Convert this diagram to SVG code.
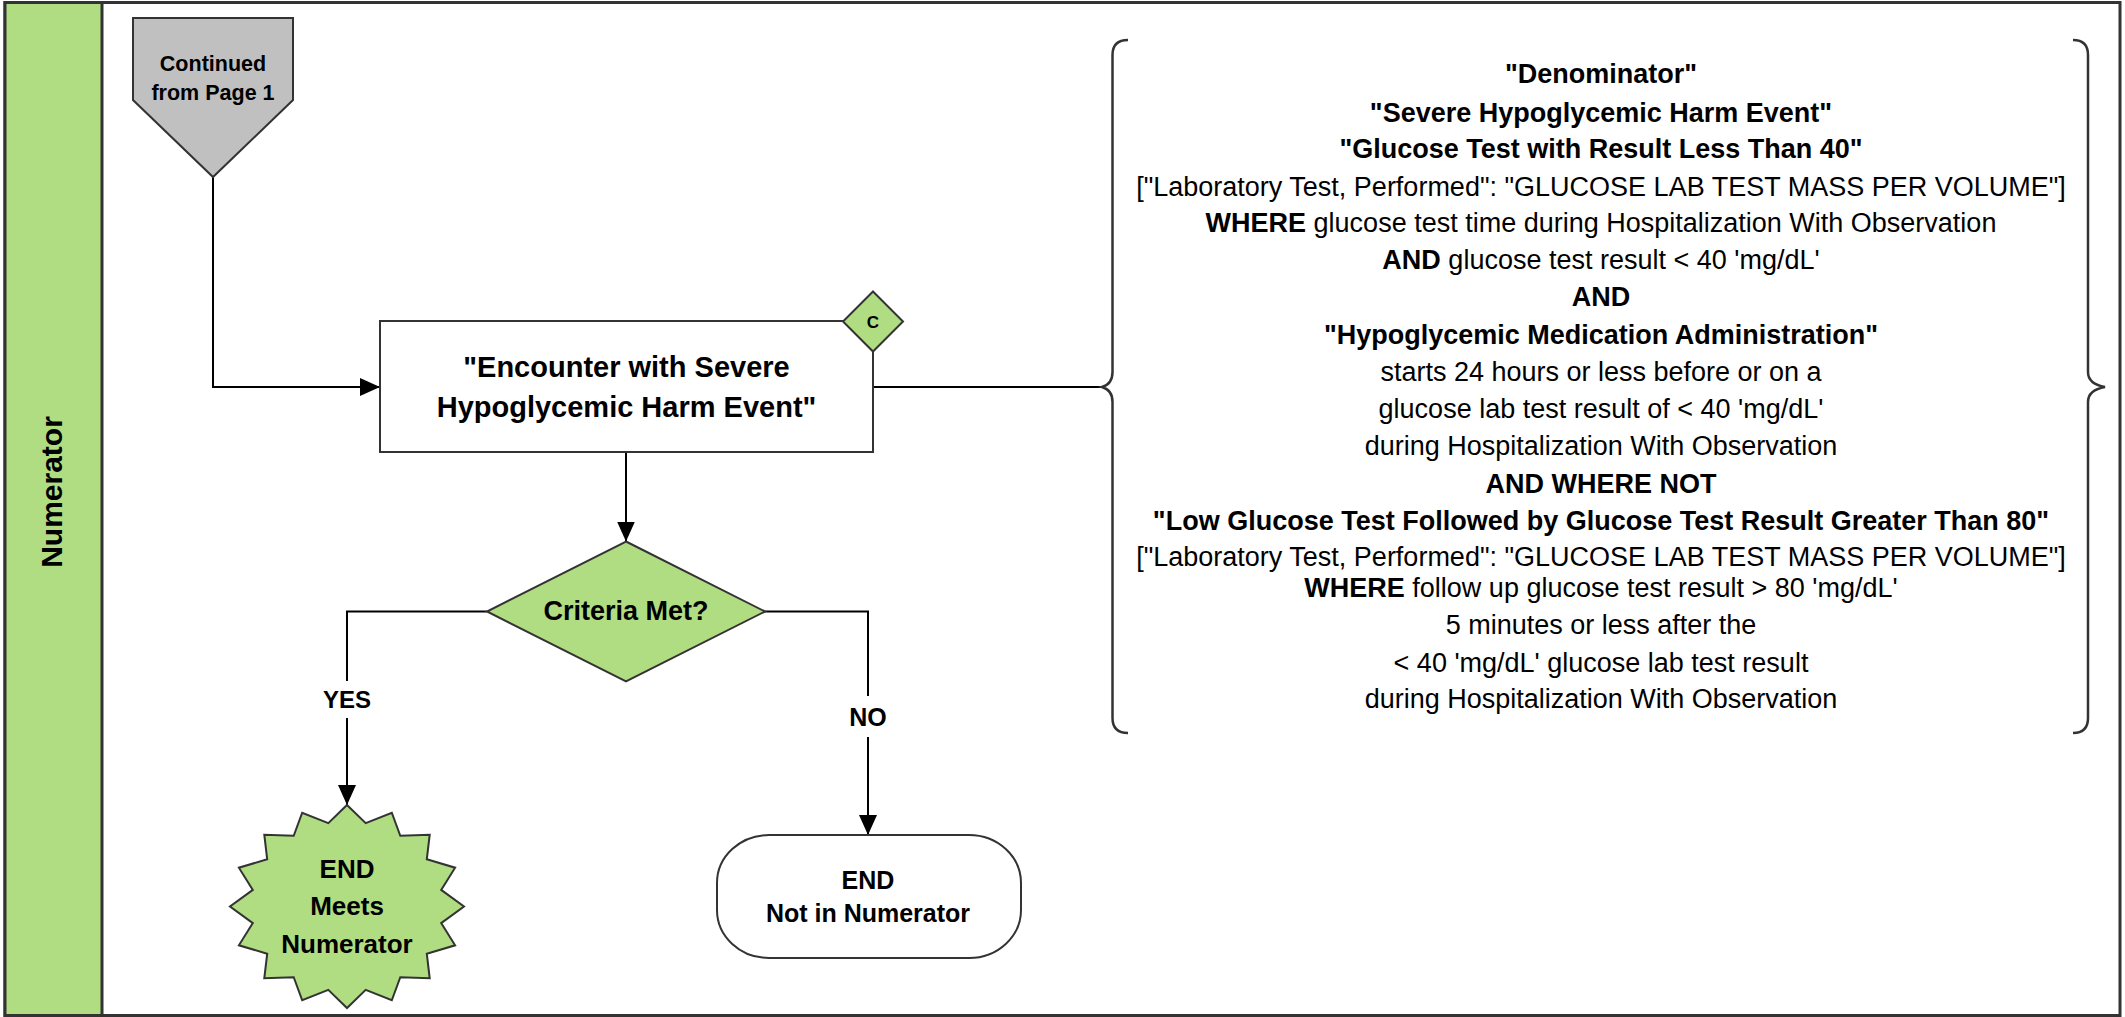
<svg xmlns="http://www.w3.org/2000/svg" width="2125" height="1017" viewBox="0 0 2125 1017">
<style>
  .green{fill:#b0dc82}
  .shape{stroke:#333;stroke-width:2}
  .conn{fill:none;stroke:#000;stroke-width:2}
  .brace{fill:none;stroke:#333;stroke-width:2.5}
  text{font-family:"Liberation Sans",Arial,sans-serif;fill:#000;text-anchor:middle}
  .b{font-weight:bold}
  .lbl{fill:#fff}
</style>
<defs>
  <marker id="arrow" viewBox="0 0 20 20" refX="20" refY="10" markerWidth="20" markerHeight="20" markerUnits="userSpaceOnUse" orient="auto">
    <path d="M0,1 L20,10 L0,19 z" fill="#000"/>
  </marker>
</defs>
<rect x="0" y="0" width="2125" height="1017" fill="#fff"/>

<g id="swimlane">
  <rect x="5" y="2.5" width="2115" height="1013" fill="#fff" stroke="#333" stroke-width="3"/>
  <rect x="5" y="2.5" width="97" height="1013" class="green" stroke="#333" stroke-width="3"/>
  <text class="b" font-size="30" transform="translate(61.5,492) rotate(-90)">Numerator</text>
</g>

<g id="connectors">
  <path class="conn" d="M213,177 V387 H380" marker-end="url(#arrow)"/>
  <path class="conn" d="M626,452 V541.5" marker-end="url(#arrow)"/>
  <path class="conn" d="M487,611.5 H347 V805" marker-end="url(#arrow)"/>
  <path class="conn" d="M765,611.5 H868 V835" marker-end="url(#arrow)"/>
  <path class="conn" d="M873,387 H1102"/>
  <rect class="lbl" x="320" y="681" width="54" height="37"/>
  <text class="b" font-size="24" x="347" y="708">YES</text>
  <rect class="lbl" x="845" y="696" width="46" height="41"/>
  <text class="b" font-size="25" x="868" y="726">NO</text>
</g>

<g id="offpage">
  <polygon points="133,18 293,18 293,100 213,177 133,100" fill="#c0c0c0" class="shape"/>
  <text class="b" font-size="21.5" x="213" y="71">Continued</text>
  <text class="b" font-size="21.5" x="213" y="100">from Page 1</text>
</g>

<g id="encounter">
  <rect x="380" y="321" width="493" height="131" fill="#fff" class="shape"/>
  <text class="b" font-size="29" x="626.5" y="377">"Encounter with Severe</text>
  <text class="b" font-size="29" x="626.5" y="417">Hypoglycemic Harm Event"</text>
</g>

<g id="marker-c">
  <polygon points="873,291.5 903,321.5 873,351.5 843,321.5" class="green shape"/>
  <text class="b" font-size="17" x="873" y="327.5">C</text>
</g>

<g id="decision">
  <polygon points="626,541.5 765,611.5 626,681.5 487,611.5" class="green shape"/>
  <text class="b" font-size="27" x="626" y="620">Criteria Met?</text>
</g>

<g id="end-meets">
  <polygon class="green shape" points="347,805 365.7,823.1 391.8,812.7 400.3,835.8 429.7,834.7 426.8,859.3 455.1,867.7 441.2,889.9 464,906.5 441.2,923.1 455.1,945.3 426.8,953.7 429.7,978.3 400.3,977.2 391.8,1000.3 365.7,989.9 347,1008 328.3,989.9 302.2,1000.3 293.7,977.2 264.3,978.3 267.2,953.7 238.9,945.3 252.8,923.1 230,906.5 252.8,889.9 238.9,867.7 267.2,859.3 264.3,834.7 293.7,835.8 302.2,812.7 328.3,823.1"/>
  <text class="b" font-size="26" x="347" y="878">END</text>
  <text class="b" font-size="26" x="347" y="915">Meets</text>
  <text class="b" font-size="26" x="347" y="953">Numerator</text>
</g>

<g id="end-not">
  <rect x="717" y="835" width="304" height="123" rx="52" ry="48" fill="#fff" class="shape"/>
  <text class="b" font-size="25" x="868" y="889">END</text>
  <text class="b" font-size="25" x="868" y="922">Not in Numerator</text>
</g>

<g id="definition">
  <path class="brace" d="M1128,40 Q1112.5,40 1112.5,55 L1112.5,372 Q1112.5,384 1102,387 Q1112.5,390 1112.5,402 L1112.5,718 Q1112.5,733 1128,733"/>
  <path class="brace" d="M2073,40 Q2088,40 2088,55 L2088,372 Q2088,384 2105,387 Q2088,390 2088,402 L2088,718 Q2088,733 2073,733"/>
  <g font-size="27">
    <text class="b" x="1601" y="83">"Denominator"</text>
    <text class="b" x="1601" y="121.5">"Severe Hypoglycemic Harm Event"</text>
    <text class="b" x="1601" y="157.5">"Glucose Test with Result Less Than 40"</text>
    <text x="1601" y="196">["Laboratory Test, Performed": "GLUCOSE LAB TEST MASS PER VOLUME"]</text>
    <text x="1601" y="231.5"><tspan class="b">WHERE</tspan> glucose test time during Hospitalization With Observation</text>
    <text x="1601" y="269"><tspan class="b">AND</tspan> glucose test result &lt; 40 'mg/dL'</text>
    <text class="b" x="1601" y="306">AND</text>
    <text class="b" x="1601" y="343.5">"Hypoglycemic Medication Administration"</text>
    <text x="1601" y="380.5">starts 24 hours or less before or on a</text>
    <text x="1601" y="418">glucose lab test result of &lt; 40 'mg/dL'</text>
    <text x="1601" y="455">during Hospitalization With Observation</text>
    <text class="b" x="1601" y="492.5">AND WHERE NOT</text>
    <text class="b" x="1601" y="529.5">"Low Glucose Test Followed by Glucose Test Result Greater Than 80"</text>
    <text x="1601" y="566">["Laboratory Test, Performed": "GLUCOSE LAB TEST MASS PER VOLUME"]</text>
    <text x="1601" y="596.5"><tspan class="b">WHERE</tspan> follow up glucose test result &gt; 80 'mg/dL'</text>
    <text x="1601" y="634">5 minutes or less after the</text>
    <text x="1601" y="671.5">&lt; 40 'mg/dL' glucose lab test result</text>
    <text x="1601" y="707.5">during Hospitalization With Observation</text>
  </g>
</g>
</svg>
